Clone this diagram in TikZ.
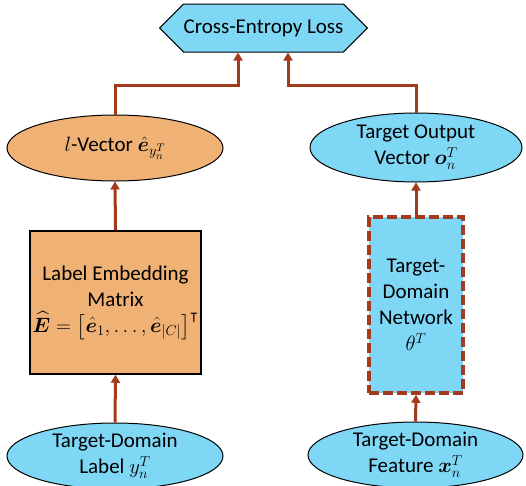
\documentclass[tikz,border=0pt]{standalone}
\usepackage{amsmath,amssymb,bm}
\usepackage{fontspec}
\setmainfont{Carlito}
\usetikzlibrary{shapes.geometric,shapes.symbols,arrows.meta}
\definecolor{bluef}{HTML}{7FD7F6}
\definecolor{orangef}{HTML}{F0B174}
\definecolor{rust}{HTML}{A33A1C}
\tikzset{
  txt/.style={font=\fontsize{21}{26}\selectfont, align=center, text=black},
  ell/.style={txt, ellipse, draw=black, line width=1pt, inner sep=0pt},
  arr/.style={draw=rust, line width=3pt, -{Triangle[width=9pt,length=8pt]}},
}
\begin{document}
\begin{tikzpicture}[x=1pt,y=-1pt]
\useasboundingbox (0,0) rectangle (526,485);
\node[txt, signal, signal to=east and west, draw=black, line width=1pt, fill=bluef,
      minimum width=201pt, minimum height=48pt, inner sep=0pt] (loss) at (263.5,28) {Cross-Entropy Loss};
\node[ell, fill=orangef, minimum width=216pt, minimum height=66pt] (lvec) at (115,148)
  {$l$-Vector $\hat{\bm{e}}_{y_n^T}$};
\node[ell, fill=bluef, minimum width=212pt, minimum height=69pt] (out) at (416,147.5)
  {Target Output\\Vector $\bm{o}_n^T$};
\node[txt, draw=black, line width=1.5pt, fill=orangef, minimum width=171pt, minimum height=143pt, inner sep=0pt] (emb) at (115.5,302.5)
  {Label Embedding\\Matrix\\$\widehat{\bm{E}}=\big[\hat{\bm{e}}_1,\ldots,\hat{\bm{e}}_{|C|}\big]^{\intercal}$};
\node[txt, draw=rust, line width=3.5pt, dash pattern=on 10pt off 4pt, fill=bluef, minimum width=94pt, minimum height=176pt, inner sep=0pt] (net) at (416,305)
  {Target-\\Domain\\Network\\$\theta^T$};
\node[ell, fill=bluef, minimum width=216pt, minimum height=66pt] (lab) at (115,456)
  {Target-Domain\\Label $y_n^T$};
\node[ell, fill=bluef, minimum width=215pt, minimum height=66pt] (feat) at (415.5,455)
  {Target-Domain\\Feature $\bm{x}_n^T$};
\coordinate (cl) at (238,85);
\coordinate (cr) at (288,85);
\draw[arr] (lab.north) -- (emb.south);
\draw[arr] (emb.north) -- (lvec.south);
\draw[arr] (feat.north) -- (net.south);
\draw[arr] (net.north) -- (out.south);
\draw[arr] (lvec.north) |- (cl) -- (cl |- loss.south);
\draw[arr] (out.north) |- (cr) -- (cr |- loss.south);
\end{tikzpicture}
\end{document}
